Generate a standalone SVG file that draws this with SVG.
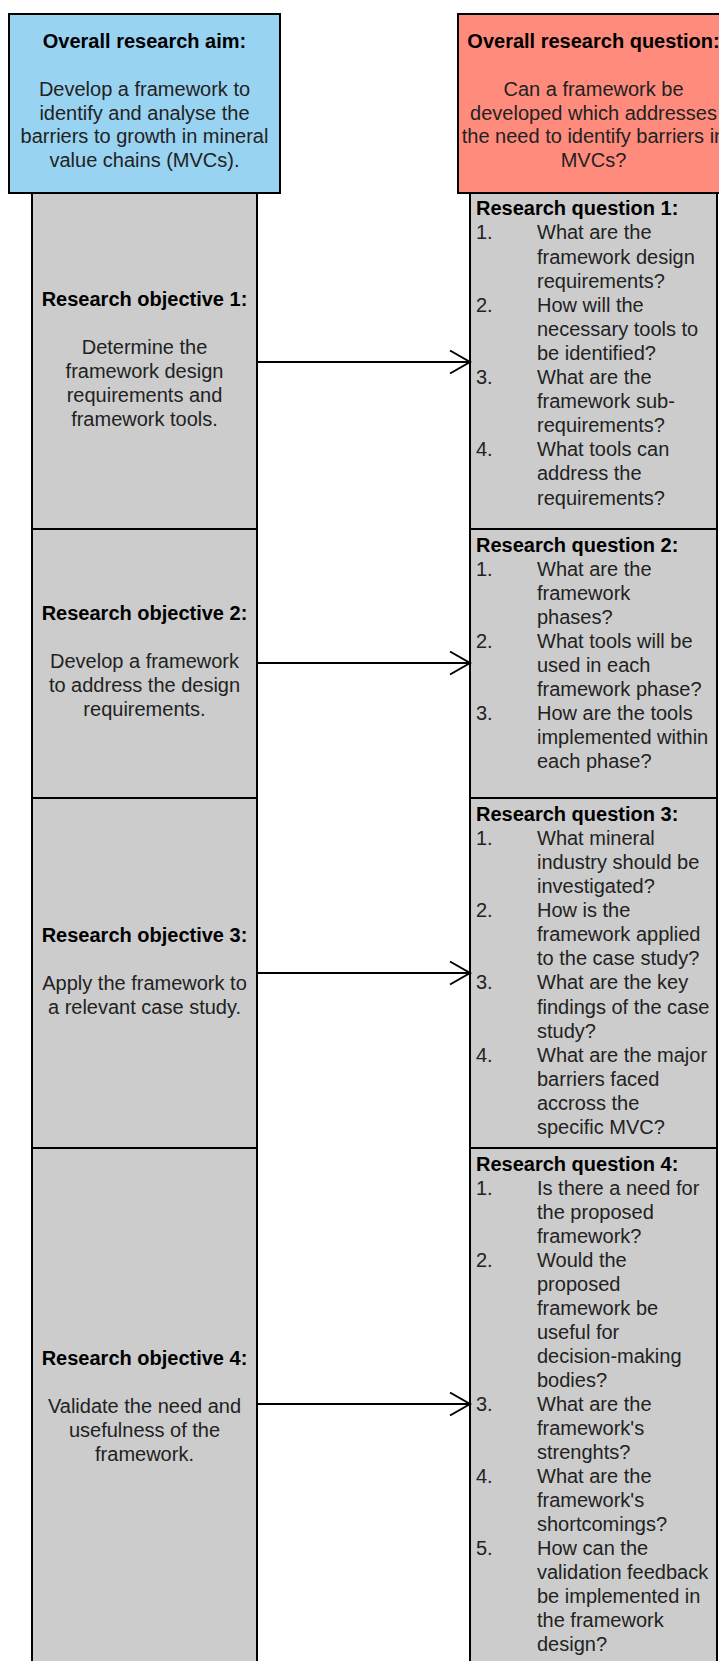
<svg xmlns="http://www.w3.org/2000/svg" width="719" height="1661" viewBox="0 0 719 1661">
  <style>
    .box { stroke: #000; stroke-width: 2; }
    .aim { fill: #99d3f2; }
    .question { fill: #ff8b7c; }
    .panel { fill: #cccccc; }
    text { font-family: "Liberation Sans", Arial, sans-serif; font-size: 20px; fill: #222; }
    .title { font-weight: bold; fill: #000; }
    .mid { text-anchor: middle; }
    .link { stroke: #000; stroke-width: 2; fill: none; }
  </style>
  <defs>
    <marker id="open-arrow" markerUnits="userSpaceOnUse" markerWidth="24" markerHeight="28" refX="21" refY="13" orient="auto">
      <path d="M1,1.5 L21,13 L1,24.5" fill="none" stroke="#000" stroke-width="2"/>
    </marker>
  </defs>

  <rect width="719" height="1661" fill="#fff"/>

  <!-- Left column: research objectives -->
  <g id="objective-1">
    <rect class="box panel" x="32" y="185" width="225" height="344"/>
    <text class="title mid" x="144.5" y="305.5">Research objective 1:</text>
    <text class="mid" x="144.5" y="353.5">Determine the</text>
    <text class="mid" x="144.5" y="377.5">framework design</text>
    <text class="mid" x="144.5" y="401.5">requirements and</text>
    <text class="mid" x="144.5" y="425.5">framework tools.</text>
  </g>
  <g id="objective-2">
    <rect class="box panel" x="32" y="529" width="225" height="269"/>
    <text class="title mid" x="144.5" y="620">Research objective 2:</text>
    <text class="mid" x="144.5" y="668">Develop a framework</text>
    <text class="mid" x="144.5" y="692">to address the design</text>
    <text class="mid" x="144.5" y="716">requirements.</text>
  </g>
  <g id="objective-3">
    <rect class="box panel" x="32" y="798" width="225" height="350"/>
    <text class="title mid" x="144.5" y="941.5">Research objective 3:</text>
    <text class="mid" x="144.5" y="989.5">Apply the framework to</text>
    <text class="mid" x="144.5" y="1013.5">a relevant case study.</text>
  </g>
  <g id="objective-4">
    <rect class="box panel" x="32" y="1148" width="225" height="525"/>
    <text class="title mid" x="144.5" y="1364.5">Research objective 4:</text>
    <text class="mid" x="144.5" y="1412.5">Validate the need and</text>
    <text class="mid" x="144.5" y="1436.5">usefulness of the</text>
    <text class="mid" x="144.5" y="1460.5">framework.</text>
  </g>

  <!-- Right column: research questions -->
  <g id="question-1">
    <rect class="box panel" x="470" y="185" width="247" height="344"/>
    <text class="title" x="476" y="215.3">Research question 1:</text>
    <text x="476" y="239.4">1.</text><text x="537" y="239.4">What are the</text>
    <text x="537" y="263.5">framework design</text>
    <text x="537" y="287.6">requirements?</text>
    <text x="476" y="311.7">2.</text><text x="537" y="311.7">How will the</text>
    <text x="537" y="335.8">necessary tools to</text>
    <text x="537" y="359.9">be identified?</text>
    <text x="476" y="384">3.</text><text x="537" y="384">What are the</text>
    <text x="537" y="408.1">framework sub-</text>
    <text x="537" y="432.2">requirements?</text>
    <text x="476" y="456.3">4.</text><text x="537" y="456.3">What tools can</text>
    <text x="537" y="480.4">address the</text>
    <text x="537" y="504.5">requirements?</text>
  </g>
  <g id="question-2">
    <rect class="box panel" x="470" y="529" width="247" height="269"/>
    <text class="title" x="476" y="551.5">Research question 2:</text>
    <text x="476" y="575.6">1.</text><text x="537" y="575.6">What are the</text>
    <text x="537" y="599.7">framework</text>
    <text x="537" y="623.8">phases?</text>
    <text x="476" y="647.9">2.</text><text x="537" y="647.9">What tools will be</text>
    <text x="537" y="672">used in each</text>
    <text x="537" y="696.1">framework phase?</text>
    <text x="476" y="720.2">3.</text><text x="537" y="720.2">How are the tools</text>
    <text x="537" y="744.3">implemented within</text>
    <text x="537" y="768.4">each phase?</text>
  </g>
  <g id="question-3">
    <rect class="box panel" x="470" y="798" width="247" height="350"/>
    <text class="title" x="476" y="820.7">Research question 3:</text>
    <text x="476" y="844.8">1.</text><text x="537" y="844.8">What mineral</text>
    <text x="537" y="868.9">industry should be</text>
    <text x="537" y="893">investigated?</text>
    <text x="476" y="917.1">2.</text><text x="537" y="917.1">How is the</text>
    <text x="537" y="941.2">framework applied</text>
    <text x="537" y="965.3">to the case study?</text>
    <text x="476" y="989.4">3.</text><text x="537" y="989.4">What are the key</text>
    <text x="537" y="1013.5">findings of the case</text>
    <text x="537" y="1037.6">study?</text>
    <text x="476" y="1061.7">4.</text><text x="537" y="1061.7">What are the major</text>
    <text x="537" y="1085.8">barriers faced</text>
    <text x="537" y="1109.9">accross the</text>
    <text x="537" y="1134">specific MVC?</text>
  </g>
  <g id="question-4">
    <rect class="box panel" x="470" y="1148" width="247" height="525"/>
    <text class="title" x="476" y="1170.7">Research question 4:</text>
    <text x="476" y="1194.7">1.</text><text x="537" y="1194.7">Is there a need for</text>
    <text x="537" y="1218.7">the proposed</text>
    <text x="537" y="1242.7">framework?</text>
    <text x="476" y="1266.7">2.</text><text x="537" y="1266.7">Would the</text>
    <text x="537" y="1290.7">proposed</text>
    <text x="537" y="1314.7">framework be</text>
    <text x="537" y="1338.7">useful for</text>
    <text x="537" y="1362.7">decision-making</text>
    <text x="537" y="1386.7">bodies?</text>
    <text x="476" y="1410.7">3.</text><text x="537" y="1410.7">What are the</text>
    <text x="537" y="1434.7">framework's</text>
    <text x="537" y="1458.7">strenghts?</text>
    <text x="476" y="1482.7">4.</text><text x="537" y="1482.7">What are the</text>
    <text x="537" y="1506.7">framework's</text>
    <text x="537" y="1530.7">shortcomings?</text>
    <text x="476" y="1554.7">5.</text><text x="537" y="1554.7">How can the</text>
    <text x="537" y="1578.7">validation feedback</text>
    <text x="537" y="1602.7">be implemented in</text>
    <text x="537" y="1626.7">the framework</text>
    <text x="537" y="1650.7">design?</text>
  </g>

  <!-- Header boxes -->
  <g id="research-aim">
    <rect class="box aim" x="9" y="14" width="271" height="179"/>
    <text class="title mid" x="144.5" y="48.3">Overall research aim:</text>
    <text class="mid" x="144.5" y="96">Develop a framework to</text>
    <text class="mid" x="144.5" y="119.7">identify and analyse the</text>
    <text class="mid" x="144.5" y="143.4">barriers to growth in mineral</text>
    <text class="mid" x="144.5" y="167">value chains (MVCs).</text>
  </g>
  <g id="research-question">
    <rect class="box question" x="458" y="14" width="271" height="179"/>
    <text class="title mid" x="593.5" y="48.3">Overall research question:</text>
    <text class="mid" x="593.5" y="96">Can a framework be</text>
    <text class="mid" x="593.5" y="119.7">developed which addresses</text>
    <text class="mid" x="593.5" y="143.4">the need to identify barriers in</text>
    <text class="mid" x="593.5" y="167">MVCs?</text>
  </g>

  <!-- Connectors: objective to question -->
  <g id="connectors">
    <line class="link" x1="257" y1="362" x2="470" y2="362" marker-end="url(#open-arrow)"/>
    <line class="link" x1="257" y1="663" x2="470" y2="663" marker-end="url(#open-arrow)"/>
    <line class="link" x1="257" y1="973" x2="470" y2="973" marker-end="url(#open-arrow)"/>
    <line class="link" x1="257" y1="1404" x2="470" y2="1404" marker-end="url(#open-arrow)"/>
  </g>
</svg>
